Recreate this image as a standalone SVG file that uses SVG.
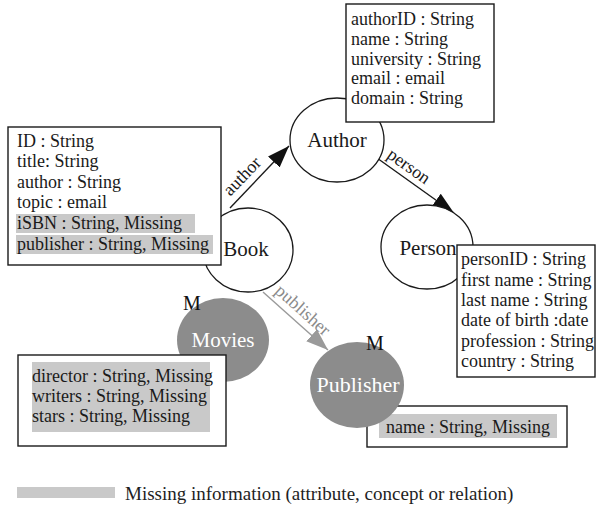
<svg xmlns="http://www.w3.org/2000/svg" width="596" height="505" viewBox="0 0 596 505">
  <style>
    .bg { fill: #ffffff; }
    .concept { fill: #ffffff; stroke: #1a1a1a; stroke-width: 1.3; }
    .missing-concept { fill: #8c8c8c; stroke: none; }
    .box { fill: #ffffff; stroke: #1a1a1a; stroke-width: 1.4; }
    .hl { fill: #c9c9c9; }
    .attr { font-family: "Liberation Serif", "DejaVu Serif", serif; font-size: 18px; fill: #1a1a1a; }
    .label { font-family: "Liberation Serif", "DejaVu Serif", serif; font-size: 21px; fill: #1a1a1a; text-anchor: middle; }
    .label-white { font-family: "Liberation Serif", "DejaVu Serif", serif; font-size: 21px; fill: #ffffff; text-anchor: middle; }
    .mark { font-family: "Liberation Serif", "DejaVu Serif", serif; font-size: 20px; fill: #111111; }
    .rel { stroke: #1a1a1a; stroke-width: 1.4; fill: none; }
    .rel-missing { stroke: #9a9a9a; stroke-width: 1.4; fill: none; }
    .rel-label { font-family: "Liberation Serif", "DejaVu Serif", serif; font-size: 18px; fill: #1a1a1a; text-anchor: middle; }
    .rel-label-missing { font-family: "Liberation Serif", "DejaVu Serif", serif; font-size: 18px; fill: #8a8a8a; text-anchor: middle; }
    .legend { font-family: "Liberation Serif", "DejaVu Serif", serif; font-size: 19px; fill: #1e1e1e; }
  </style>
  <defs>
    <marker id="arrow" viewBox="0 0 22 16" refX="22" refY="8" markerWidth="22" markerHeight="16" markerUnits="userSpaceOnUse" orient="auto">
      <path d="M0,0 L22,8 L0,16 z" fill="#111111"/>
    </marker>
    <marker id="arrow-missing" viewBox="0 0 22 16" refX="22" refY="8" markerWidth="22" markerHeight="16" markerUnits="userSpaceOnUse" orient="auto">
      <path d="M0,0 L22,8 L0,16 z" fill="#9a9a9a"/>
    </marker>
  </defs>

  <rect class="bg" x="0" y="0" width="596" height="505"/>

  <!-- relations -->
  <g id="connectors">
    <line class="rel" x1="230" y1="208" x2="289" y2="146" marker-end="url(#arrow)"/>
    <text class="rel-label" transform="translate(246.3,180.2) rotate(-46)">author</text>
    <line class="rel" x1="377" y1="158" x2="454" y2="213" marker-end="url(#arrow)"/>
    <text class="rel-label" transform="translate(405.5,170.9) rotate(35.5)">person</text>
    <line class="rel-missing" x1="263" y1="292" x2="328" y2="350" marker-end="url(#arrow-missing)"/>
    <text class="rel-label-missing" transform="translate(299,314.5) rotate(41.7)">publisher</text>
  </g>

  <!-- Author concept and its attributes -->
  <g id="author">
    <ellipse class="concept" cx="337" cy="140" rx="47" ry="42"/>
    <text class="label" x="337" y="147">Author</text>
  </g>
  <g id="author-attributes">
    <rect class="box" x="346" y="4" width="148" height="118"/>
    <text class="attr" x="351" y="25">authorID : String</text>
    <text class="attr" x="351" y="45">name : String</text>
    <text class="attr" x="351" y="64.5">university : String</text>
    <text class="attr" x="351" y="84">email : email</text>
    <text class="attr" x="351" y="103.5">domain : String</text>
  </g>

  <!-- Book concept and its attributes -->
  <g id="book">
    <ellipse class="concept" cx="248" cy="250" rx="45" ry="42"/>
    <text class="label" x="246" y="256">Book</text>
  </g>
  <g id="book-attributes">
    <rect class="box" x="8" y="127" width="213" height="138"/>
    <rect class="hl" x="16" y="214" width="179" height="19"/>
    <rect class="hl" x="16" y="235" width="197" height="19"/>
    <text class="attr" x="17" y="147">ID : String</text>
    <text class="attr" x="17" y="167">title: String</text>
    <text class="attr" x="17" y="188">author : String</text>
    <text class="attr" x="17" y="208">topic : email</text>
    <text class="attr" x="17" y="229">iSBN : String, Missing</text>
    <text class="attr" x="17" y="250">publisher : String, Missing</text>
  </g>

  <!-- Person concept and its attributes -->
  <g id="person">
    <ellipse class="concept" cx="427" cy="247" rx="46" ry="42"/>
    <text class="label" x="428" y="255">Person</text>
  </g>
  <g id="person-attributes">
    <rect class="box" x="457" y="245" width="138" height="132"/>
    <text class="attr" x="461" y="265">personID : String</text>
    <text class="attr" x="461" y="286">first name : String</text>
    <text class="attr" x="461" y="306">last name : String</text>
    <text class="attr" x="461" y="326">date of birth :date</text>
    <text class="attr" x="461" y="346.5">profession : String</text>
    <text class="attr" x="461" y="367">country : String</text>
  </g>

  <!-- Movies: missing concept -->
  <g id="movies">
    <ellipse class="missing-concept" cx="223" cy="340" rx="46" ry="42"/>
    <text class="label-white" x="223" y="347">Movies</text>
    <text class="mark" x="183" y="310">M</text>
  </g>
  <g id="movies-attributes">
    <rect class="box" x="18" y="355" width="208" height="91"/>
    <rect class="hl" x="32" y="362" width="178" height="70"/>
    <text class="attr" x="32" y="382">director : String, Missing</text>
    <text class="attr" x="32" y="402">writers : String, Missing</text>
    <text class="attr" x="32" y="422">stars : String, Missing</text>
  </g>

  <!-- Publisher: missing concept -->
  <g id="publisher-attributes">
    <rect class="box" x="367" y="406" width="200" height="41"/>
    <rect class="hl" x="379" y="414" width="178" height="24"/>
    <text class="attr" x="386" y="433">name : String, Missing</text>
  </g>
  <g id="publisher">
    <ellipse class="missing-concept" cx="357" cy="385" rx="47" ry="43"/>
    <text class="label-white" x="358" y="392" style="font-size:22px">Publisher</text>
    <text class="mark" x="366" y="350">M</text>
  </g>

  <!-- legend -->
  <g id="legend">
    <rect class="hl" x="17" y="487" width="98" height="11"/>
    <text class="legend" x="125" y="500">Missing information (attribute, concept or relation)</text>
  </g>
</svg>
